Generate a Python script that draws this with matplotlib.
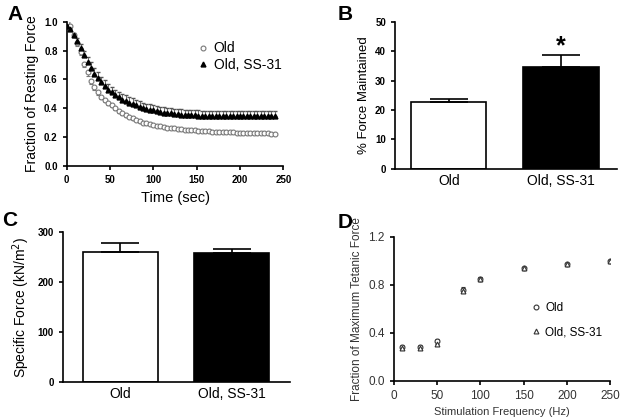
import numpy as np
import matplotlib.pyplot as plt
from matplotlib.lines import Line2D

plt.rcParams['font.family'] = ['Liberation Sans', 'DejaVu Sans']

# Panel A: fatigue time course
time_s = np.arange(0, 241, 4)
old_fatigue = [1.00, 0.97, 0.91, 0.85, 0.79, 0.71, 0.65, 0.59, 0.55, 0.51,
               0.48, 0.46, 0.44, 0.42, 0.40, 0.38, 0.365, 0.35, 0.34, 0.33,
               0.32, 0.31, 0.30, 0.295, 0.29, 0.285, 0.28, 0.275, 0.27, 0.266,
               0.263, 0.26, 0.257, 0.254, 0.252, 0.25, 0.248, 0.246, 0.244, 0.242,
               0.24, 0.239, 0.238, 0.237, 0.236, 0.235, 0.234, 0.233, 0.232, 0.231,
               0.23, 0.229, 0.228, 0.228, 0.227, 0.226, 0.226, 0.225, 0.225, 0.224,
               0.224]
old_fatigue_err = [0.0, 0.005, 0.01, 0.015, 0.02, 0.025, 0.025, 0.025, 0.02, 0.02,
                   0.018, 0.016, 0.015, 0.014, 0.013, 0.012, 0.012, 0.011, 0.01, 0.01,
                   0.01, 0.009, 0.009, 0.009, 0.008, 0.008, 0.008, 0.008, 0.007, 0.007,
                   0.007, 0.007, 0.007, 0.006, 0.006, 0.006, 0.006, 0.006, 0.006, 0.006,
                   0.006, 0.006, 0.006, 0.006, 0.006, 0.006, 0.006, 0.006, 0.006, 0.006,
                   0.006, 0.006, 0.006, 0.006, 0.006, 0.006, 0.006, 0.006, 0.006, 0.006,
                   0.006]
ss31_fatigue = [0.97, 0.95, 0.91, 0.87, 0.82, 0.77, 0.72, 0.68, 0.64, 0.61,
                0.58, 0.555, 0.53, 0.51, 0.49, 0.475, 0.46, 0.45, 0.44, 0.43,
                0.42, 0.41, 0.40, 0.395, 0.39, 0.385, 0.38, 0.375, 0.37, 0.367,
                0.364, 0.361, 0.358, 0.356, 0.354, 0.352, 0.351, 0.35, 0.349, 0.348,
                0.347, 0.346, 0.346, 0.346, 0.345, 0.345, 0.345, 0.345, 0.345, 0.345,
                0.345, 0.345, 0.345, 0.345, 0.345, 0.345, 0.345, 0.345, 0.345, 0.345,
                0.345]
ss31_fatigue_err = [0.005, 0.01, 0.015, 0.02, 0.025, 0.03, 0.035, 0.04, 0.04, 0.04,
                    0.04, 0.04, 0.04, 0.04, 0.04, 0.04, 0.04, 0.04, 0.04, 0.04,
                    0.04, 0.04, 0.04, 0.038, 0.038, 0.038, 0.037, 0.037, 0.037, 0.036,
                    0.036, 0.036, 0.036, 0.036, 0.036, 0.036, 0.036, 0.036, 0.036, 0.036,
                    0.036, 0.036, 0.036, 0.036, 0.036, 0.036, 0.036, 0.036, 0.036, 0.036,
                    0.036, 0.036, 0.036, 0.036, 0.036, 0.036, 0.036, 0.036, 0.036, 0.036,
                    0.036]

# Panels B and C: bar charts
groups = ["Old", "Old, SS-31"]
force_kept = [22.8, 34.5]
force_kept_err = [0.8, 4.3]
specific_force = [260, 259]
specific_force_err = [18, 8]

# Panel D: force-frequency
freq_hz = [10, 30, 50, 80, 100, 150, 200, 250]
old_ff = [0.28, 0.28, 0.33, 0.76, 0.85, 0.94, 0.97, 1.0]
old_ff_err = [0.015, 0.015, 0.02, 0.02, 0.015, 0.008, 0.008, 0.005]
ss31_ff = [0.27, 0.27, 0.31, 0.75, 0.85, 0.94, 0.97, 1.0]
ss31_ff_err = [0.015, 0.015, 0.02, 0.02, 0.015, 0.008, 0.008, 0.005]

fig = plt.figure(figsize=(6.24, 4.19), dpi=100)

def clean(ax):
    ax.spines['top'].set_visible(False)
    ax.spines['right'].set_visible(False)
    ax.spines['left'].set_linewidth(1.2)
    ax.spines['bottom'].set_linewidth(1.2)
    ax.tick_params(width=1.2, length=3)

# A
axA = fig.add_axes([0.107, 0.604, 0.347, 0.344])
clean(axA)
axA.errorbar(time_s, old_fatigue, yerr=[old_fatigue_err, [0]*len(time_s)],
             fmt='o', ms=3.5, mfc='white', mec='#777777', mew=0.8,
             ecolor='#777777', elinewidth=0.6, capsize=1.5)
axA.errorbar(time_s, ss31_fatigue, yerr=[[0]*len(time_s), ss31_fatigue_err],
             fmt='^', ms=3.5, color='black', ecolor='#555555',
             elinewidth=0.6, capsize=1.5)
axA.set_xlim(0, 250)
axA.set_ylim(0, 1.0)
axA.set_xticks([0, 50, 100, 150, 200, 250])
axA.set_yticks([0.0, 0.2, 0.4, 0.6, 0.8, 1.0])
axA.set_yticklabels(["0.0", "0.2", "0.4", "0.6", "0.8", "1.0"])
for t in axA.get_xticklabels() + axA.get_yticklabels():
    t.set_fontweight('bold')
    t.set_fontsize(7)
axA.set_xlabel("Time (sec)", fontsize=10.5)
axA.set_ylabel("Fraction of Resting Force", fontsize=10)
handlesA = [Line2D([], [], ls='none', marker='o', ms=3.5, mfc='white', mec='#777777', mew=0.8),
            Line2D([], [], ls='none', marker='^', ms=3.5, color='black')]
axA.legend(handlesA, ["Old", "Old, SS-31"], loc='upper right', bbox_to_anchor=(1.05, 0.95),
           frameon=False, fontsize=10, handletextpad=0.3, labelspacing=0.2,
           handlelength=1.0)

# B
axB = fig.add_axes([0.633, 0.597, 0.356, 0.351])
clean(axB)
axB.bar([0, 1], force_kept, width=0.67, color=['white', 'black'],
        edgecolor='black', linewidth=1.2)
axB.errorbar([0, 1], force_kept, yerr=[[0, 0], force_kept_err], fmt='none',
             ecolor='black', elinewidth=1.2, capsize=14, capthick=1.2)
axB.text(1, 41.5, "*", ha='center', va='center', fontsize=18, fontweight='bold')
axB.set_xlim(-0.48, 1.5)
axB.set_ylim(0, 50)
axB.set_yticks([0, 10, 20, 30, 40, 50])
axB.set_xticks([0, 1])
axB.set_xticklabels(groups, fontsize=10)
axB.tick_params(axis='x', length=0)
for t in axB.get_yticklabels():
    t.set_fontweight('bold')
    t.set_fontsize(7)
axB.set_ylabel("% Force Maintained", fontsize=9.5)

# C
axC = fig.add_axes([0.101, 0.088, 0.364, 0.358])
clean(axC)
axC.bar([0, 1], specific_force, width=0.67, color=['white', 'black'],
        edgecolor='black', linewidth=1.2)
axC.errorbar([0, 1], specific_force, yerr=[[0, 0], specific_force_err], fmt='none',
             ecolor='black', elinewidth=1.2, capsize=14, capthick=1.2)
axC.set_xlim(-0.51, 1.52)
axC.set_ylim(0, 300)
axC.set_yticks([0, 100, 200, 300])
axC.set_xticks([0, 1])
axC.set_xticklabels(groups, fontsize=10)
axC.tick_params(axis='x', length=0)
for t in axC.get_yticklabels():
    t.set_fontweight('bold')
    t.set_fontsize(7)
axC.set_ylabel("Specific Force (kN/m$^2$)", fontsize=10)

# D
axD = fig.add_axes([0.631, 0.091, 0.347, 0.344])
clean(axD)
axD.errorbar(freq_hz, old_ff, yerr=old_ff_err, fmt='o', ms=3.5, mfc='white',
             mec='#333333', mew=0.8, ecolor='#333333', elinewidth=0.7,
             capsize=1.5)
axD.errorbar(freq_hz, ss31_ff, yerr=ss31_ff_err, fmt='^', ms=3.5, mfc='white',
             mec='#333333', mew=0.8, ecolor='#333333', elinewidth=0.7,
             capsize=1.5)
axD.set_xlim(0, 250)
axD.set_ylim(0, 1.2)
axD.set_xticks([0, 50, 100, 150, 200, 250])
axD.set_yticks([0.0, 0.4, 0.8, 1.2])
axD.set_yticklabels(["0.0", "0.4", "0.8", "1.2"])
axD.tick_params(labelsize=8.5, labelcolor='#333333')
axD.set_xlabel("Stimulation Frequency (Hz)", fontsize=8, color='#333333')
axD.set_ylabel("Fraction of Maximum Tetanic Force", fontsize=8.5, color='#333333')
handlesD = [Line2D([], [], ls='none', marker='o', ms=3.5, mfc='white', mec='#333333', mew=0.8),
            Line2D([], [], ls='none', marker='^', ms=3.5, mfc='white', mec='#333333', mew=0.8)]
axD.legend(handlesD, ["Old", "Old, SS-31"], loc='center left', bbox_to_anchor=(0.58, 0.42),
           frameon=False, fontsize=8.5, handletextpad=0.3, labelspacing=1.0,
           handlelength=1.0)

for lbl, x, y in [("A", 15, 15), ("B", 345, 15), ("C", 10, 220), ("D", 345, 222)]:
    fig.text(x / 624, 1 - y / 419, lbl, fontsize=15, fontweight='bold',
             ha='center', va='center')

fig.savefig("out.png", dpi=100)
